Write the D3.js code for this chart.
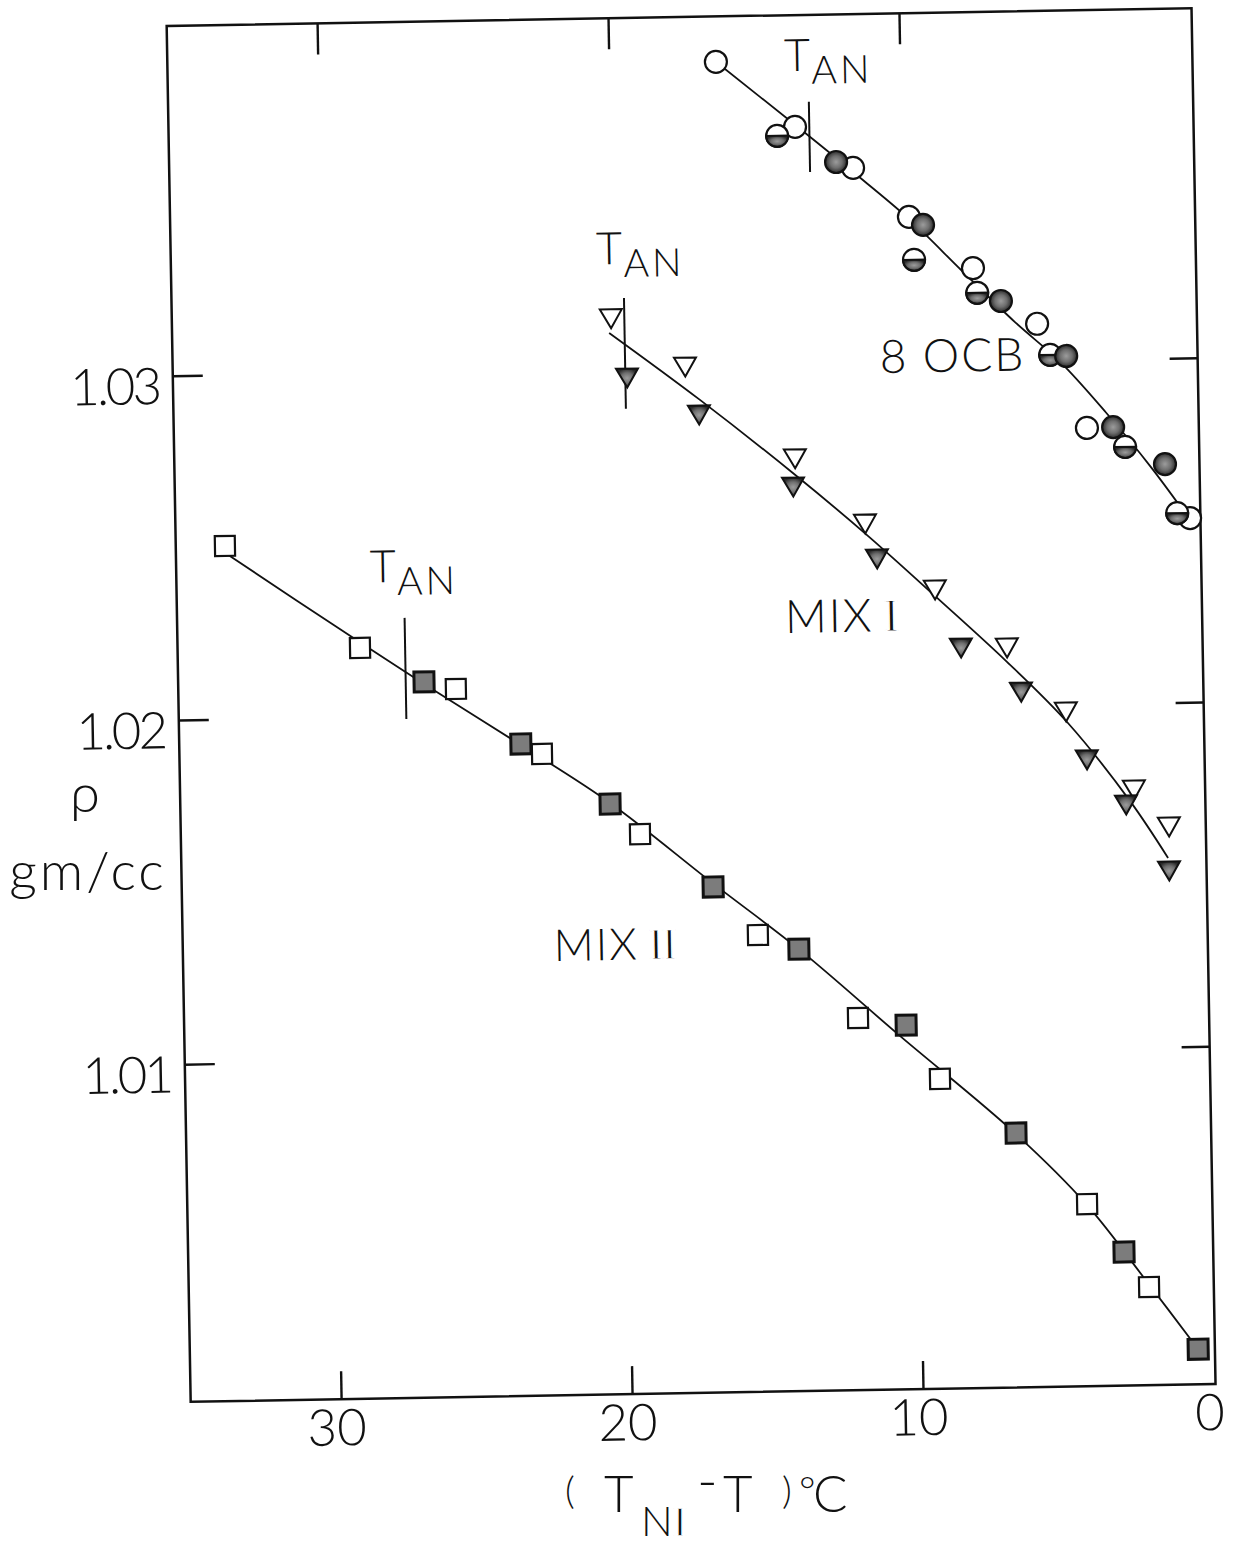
<!DOCTYPE html>
<html>
<head>
<meta charset="utf-8">
<script src="https://cdn.jsdelivr.net/npm/d3@7"></script>
<style>
  body { margin: 0; background: #fff; }
  svg { display: block; }
  text { font-family: Lato, "DejaVu Sans", sans-serif; font-weight: 300; fill: #111; }
  .roman { font-family: "Liberation Serif", "DejaVu Serif", serif; font-weight: 400;
           stroke: #fff; stroke-width: 1.3; paint-order: fill stroke; }
</style>
</head>
<body>
<svg id="chart" width="1238" height="1550"></svg>
<script>
// Density of 8OCB and its mixtures versus (T_NI - T), in °C and g/cc.

// 8OCB: open, half-filled and filled circles, plus the fitted curve
const ocbOpenDT   = [16.32, 13.64, 11.67, 9.78, 7.61, 5.44, 3.79, 0.30];
const ocbOpenRho  = [1.03884, 1.03691, 1.03569, 1.03424, 1.03272, 1.03107, 1.02802, 1.02535];
const ocbHalfDT   = [14.26, 9.63, 7.48, 5.01, 2.49, 0.74];
const ocbHalfRho  = [1.03666, 1.03299, 1.03200, 1.03016, 1.02745, 1.02550];
const ocbFilledDT = [12.25, 9.30, 6.67, 4.46, 2.89, 1.13];
const ocbFilledRho= [1.03587, 1.03400, 1.03175, 1.03012, 1.02803, 1.02693];
const ocbFitDT    = [16.32, 13.64, 11.67, 9.78, 7.95, 6.20, 4.67, 3.12, 1.64, 0.30];
const ocbFitRho   = [1.03884, 1.03697, 1.03557, 1.03418, 1.03261, 1.03113, 1.02995, 1.02845, 1.02688, 1.02529];

// MIX I: open and filled triangles, plus the fitted curve
const mix1OpenDT   = [20.08, 17.56, 13.84, 11.47, 9.11, 6.67, 4.68, 2.39, 1.21];
const mix1OpenRho  = [1.03143, 1.02999, 1.02727, 1.02534, 1.02339, 1.02167, 1.01978, 1.01748, 1.01639];
const mix1FilledDT = [19.56, 17.11, 13.92, 11.08, 8.25, 6.21, 3.99, 2.67, 1.23];
const mix1FilledRho= [1.02970, 1.02859, 1.02645, 1.02432, 1.02169, 1.02038, 1.01838, 1.01705, 1.01511];
const mix1FitDT    = [20.15, 17.07, 13.88, 11.41, 9.04, 6.67, 4.62, 2.53, 1.26];
const mix1FitRho   = [1.03102, 1.02903, 1.02683, 1.02502, 1.02316, 1.02126, 1.01946, 1.01716, 1.01549];

// MIX II: open and filled squares, plus the fitted curve
const mix2OpenDT   = [33.48, 28.90, 25.63, 22.71, 19.39, 15.40, 12.01, 9.23, 4.25, 2.17];
const mix2OpenRho  = [1.02503, 1.02200, 1.02076, 1.01883, 1.01645, 1.01346, 1.01100, 1.00919, 1.00548, 1.00304];
const mix2FilledDT = [26.72, 23.43, 20.40, 16.91, 14.00, 10.36, 6.65, 3.01, 0.52];
const mix2FilledRho= [1.02098, 1.01913, 1.01734, 1.01488, 1.01303, 1.01077, 1.00758, 1.00407, 1.00121];
const mix2FitDT    = [33.38, 29.17, 26.72, 23.43, 20.40, 16.88, 13.96, 10.58, 6.65, 4.25, 2.20, 0.52];
const mix2FitRho   = [1.02477, 1.02232, 1.02092, 1.01910, 1.01737, 1.01496, 1.01300, 1.01046, 1.00755, 1.00545, 1.00315, 1.00121];

// T_AN markers (8OCB, MIX I, MIX II): position and the density span of each bar
const tanDT        = [13.15, 19.62, 27.35];
const tanRhoTop    = [1.03763, 1.03203, 1.02285];
const tanRhoBottom = [1.03559, 1.02881, 1.01991];

// Series names and where they are written
const seriesNames    = ["8 OCB", "MIX I", "MIX II"];
const seriesLabelDT  = [10.87, 14.28, 22.42];
const seriesLabelRho = [1.02972, 1.02222, 1.01281];

// Axes
const xDomain     = [35.17, -0.055];
const yDomain     = [1.000192, 1.040157];
const xTickValues = [0, 10, 20, 30];
const xTickMarks  = [10, 20, 30];
const yTickValues = [1.01, 1.02, 1.03];

// ---------------------------------------------------------------
const svg = d3.select("#chart");
svg.append("rect").attr("width", 1238).attr("height", 1550).attr("fill", "#fff");

const defs = svg.append("defs");
const grad = defs.append("radialGradient").attr("id", "darkFill");
grad.append("stop").attr("offset", "0%").attr("stop-color", "#9c9c9c");
grad.append("stop").attr("offset", "55%").attr("stop-color", "#6e6e6e");
grad.append("stop").attr("offset", "100%").attr("stop-color", "#2a2a2a");

const frame = { left: 178.6, right: 1203.6, top: 17, bottom: 1393 };
const ink = "#111";

// the whole plot sits slightly tilted on the page
const plot = svg.append("g").attr("transform", "rotate(-1.0, 691, 705)");

const x = d3.scaleLinear().domain(xDomain).range([frame.left, frame.right]);
const y = d3.scaleLinear().domain(yDomain).range([frame.bottom, frame.top]);

plot.append("rect")
  .attr("x", frame.left).attr("y", frame.top)
  .attr("width", frame.right - frame.left).attr("height", frame.bottom - frame.top)
  .attr("fill", "none").attr("stroke", ink).attr("stroke-width", 2.5);

function styleAxis(g) {
  g.attr("font-size", null).attr("font-family", null).style("color", ink);
  g.select(".domain").remove();
  g.selectAll(".tick line").attr("stroke-width", 2.4);
}

const gBottom = plot.append("g")
  .attr("transform", `translate(0,${frame.bottom})`)
  .call(d3.axisBottom(x).tickValues(xTickValues).tickFormat(d3.format("d"))
    .tickSizeInner(-28).tickSizeOuter(0).tickPadding(10));
styleAxis(gBottom);
gBottom.selectAll(".tick").filter(d => !xTickMarks.includes(d)).select("line").remove();
gBottom.selectAll(".tick text").attr("font-size", 51).attr("dx", -5);

const gTop = plot.append("g")
  .attr("transform", `translate(0,${frame.top})`)
  .call(d3.axisTop(x).tickValues(xTickMarks).tickFormat(() => "")
    .tickSizeInner(-31).tickSizeOuter(0));
styleAxis(gTop);

const gLeft = plot.append("g")
  .attr("transform", `translate(${frame.left},0)`)
  .call(d3.axisLeft(y).tickValues(yTickValues).tickFormat(d3.format(".2f"))
    .tickSizeInner(-30).tickSizeOuter(0).tickPadding(14));
styleAxis(gLeft);
gLeft.selectAll(".tick text").attr("font-size", 51).attr("dy", "0.54em")
  .attr("letter-spacing", -3);

const gRight = plot.append("g")
  .attr("transform", `translate(${frame.right},0)`)
  .call(d3.axisRight(y).tickValues(yTickValues).tickFormat(() => "")
    .tickSizeInner(-28).tickSizeOuter(0));
styleAxis(gRight);

// fitted curves
const curve = d3.line()
  .x(d => x(d[0])).y(d => y(d[1]))
  .curve(d3.curveCatmullRom.alpha(0.5));
[[ocbFitDT, ocbFitRho], [mix1FitDT, mix1FitRho], [mix2FitDT, mix2FitRho]].forEach(([dt, rho]) => {
  plot.append("path").datum(d3.zip(dt, rho)).attr("d", curve)
    .attr("fill", "none").attr("stroke", ink).attr("stroke-width", 1.8);
});

// T_AN bars and labels
const tanLabelOffset = [[-24, -31], [-27, -34], [-34, -36]];
tanDT.forEach((t, i) => {
  plot.append("line")
    .attr("x1", x(t)).attr("x2", x(t))
    .attr("y1", y(tanRhoTop[i])).attr("y2", y(tanRhoBottom[i]))
    .attr("stroke", ink).attr("stroke-width", 2);
  const lbl = plot.append("text")
    .attr("x", x(t) + tanLabelOffset[i][0])
    .attr("y", y(tanRhoTop[i]) + tanLabelOffset[i][1])
    .attr("font-size", 45);
  lbl.append("tspan").text("T");
  lbl.append("tspan").attr("dy", 13).attr("font-size", 39).attr("dx", 1)
    .attr("letter-spacing", 3).text("AN");
});

// markers
const pts = (a, b) => d3.zip(a, b);
const R = 11;

function circles(data, kind) {
  const g = plot.append("g");
  const m = g.selectAll("g").data(data).join("g")
    .attr("transform", d => `translate(${x(d[0])},${y(d[1])})`);
  m.append("circle").attr("r", R)
    .attr("fill", kind === "filled" ? "url(#darkFill)" : "#fff")
    .attr("stroke", ink).attr("stroke-width", 2.2);
  if (kind === "half") {
    m.append("path")
      .attr("d", `M${-R},0 A${R},${R} 0 0 0 ${R},0 Z`)
      .attr("fill", "url(#darkFill)").attr("stroke", ink).attr("stroke-width", 2);
  }
}
circles(pts(ocbOpenDT, ocbOpenRho), "open");
circles(pts(ocbHalfDT, ocbHalfRho), "half");
circles(pts(ocbFilledDT, ocbFilledRho), "filled");

function triangles(data, filled) {
  plot.append("g").selectAll("path").data(data).join("path")
    .attr("d", "M-11,-9.5 L11,-9.5 L0,9.5 Z")
    .attr("transform", d => `translate(${x(d[0])},${y(d[1])})`)
    .attr("fill", filled ? "url(#darkFill)" : "#fff")
    .attr("stroke", ink).attr("stroke-width", 2).attr("stroke-linejoin", "miter");
}
triangles(pts(mix1OpenDT, mix1OpenRho), false);
triangles(pts(mix1FilledDT, mix1FilledRho), true);

function squares(data, filled) {
  plot.append("g").selectAll("rect").data(data).join("rect")
    .attr("x", d => x(d[0]) - 10).attr("y", d => y(d[1]) - 10)
    .attr("width", 20).attr("height", 20)
    .attr("fill", filled ? "#7c7c7c" : "#fff")
    .attr("stroke", ink).attr("stroke-width", filled ? 3 : 2.2);
}
squares(pts(mix2FilledDT, mix2FilledRho), true);
squares(pts(mix2OpenDT, mix2OpenRho), false);

// series names; a trailing roman numeral is set in a serif face so its bars join
seriesNames.forEach((name, i) => {
  const m = name.match(/^(.*\s)(I+)$/);
  const t = plot.append("text")
    .attr("x", x(seriesLabelDT[i])).attr("y", y(seriesLabelRho[i]))
    .attr("font-size", i === 2 ? 44 : 46).attr("letter-spacing", 2);
  if (m) {
    t.append("tspan").text(m[1].trim());
    t.append("tspan").attr("class", "roman").attr("dx", 10)
      .attr("font-size", i === 2 ? 45 : 47)
      .attr("letter-spacing", m[2].length > 1 ? -1.5 : 0).text(m[2]);
  } else {
    t.text(name);
  }
});

// axis titles
const xt = svg.append("text").attr("font-size", 51);
xt.append("tspan").attr("x", 565).attr("y", 1504).attr("font-size", 38).text("(");
xt.append("tspan").attr("x", 604).attr("y", 1512).text("T");
xt.append("tspan").attr("x", 641).attr("y", 1536).attr("font-size", 42).text("N");
xt.append("tspan").attr("class", "roman").attr("y", 1536).attr("font-size", 43).text("I");
xt.append("tspan").attr("x", 697).attr("y", 1500).attr("font-size", 56).text("-");
xt.append("tspan").attr("x", 723).attr("y", 1512).text("T");
xt.append("tspan").attr("x", 782).attr("y", 1504).attr("font-size", 38).text(")");
xt.append("tspan").attr("x", 799).attr("y", 1505).attr("font-size", 40).text("°");
xt.append("tspan").attr("x", 813).attr("y", 1512).text("C");

svg.append("text").attr("x", 85).attr("y", 812).attr("font-size", 54)
  .attr("text-anchor", "middle").text("ρ");
svg.append("text").attr("x", 88).attr("y", 890).attr("font-size", 54)
  .attr("text-anchor", "middle").attr("letter-spacing", 3).text("gm/cc");
</script>
</body>
</html>
